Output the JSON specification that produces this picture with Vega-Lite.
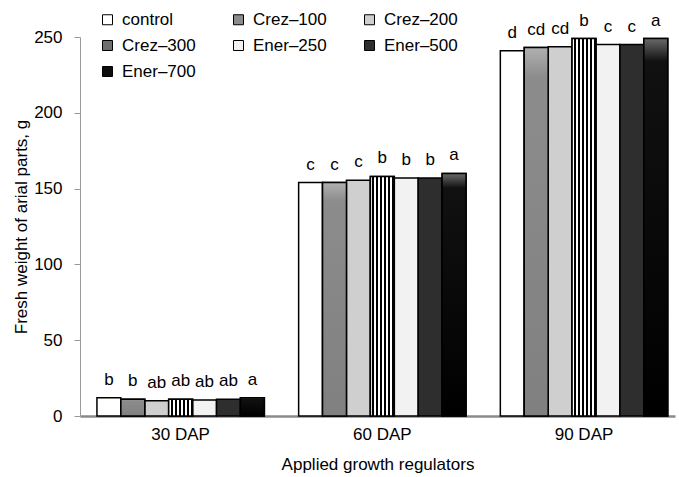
{
  "$schema": "https://vega.github.io/schema/vega-lite/v6.json",
  "width": 595,
  "height": 379,
  "autosize": {"type": "none"},
  "padding": {"left": 80, "top": 37, "right": 4, "bottom": 61},
  "background": "white",
  "config": {
    "font": "Liberation Sans",
    "view": {"stroke": null},
    "axis": {"labelFont": "Liberation Sans", "titleFont": "Liberation Sans", "labelColor": "black", "titleColor": "black", "titleFontWeight": "normal"}
  },
  "data": {
    "values": [
      {"dap": "30 DAP", "treatment": "control", "value": 12, "letter": "b"},
      {"dap": "30 DAP", "treatment": "Crez–100", "value": 11, "letter": "b"},
      {"dap": "30 DAP", "treatment": "Crez–200", "value": 10, "letter": "ab"},
      {"dap": "30 DAP", "treatment": "Crez–300", "value": 11, "letter": "ab"},
      {"dap": "30 DAP", "treatment": "Ener–250", "value": 10.5, "letter": "ab"},
      {"dap": "30 DAP", "treatment": "Ener–500", "value": 11, "letter": "ab"},
      {"dap": "30 DAP", "treatment": "Ener–700", "value": 12, "letter": "a"},
      {"dap": "60 DAP", "treatment": "control", "value": 154, "letter": "c"},
      {"dap": "60 DAP", "treatment": "Crez–100", "value": 154, "letter": "c"},
      {"dap": "60 DAP", "treatment": "Crez–200", "value": 155.5, "letter": "c"},
      {"dap": "60 DAP", "treatment": "Crez–300", "value": 158, "letter": "b"},
      {"dap": "60 DAP", "treatment": "Ener–250", "value": 157, "letter": "b"},
      {"dap": "60 DAP", "treatment": "Ener–500", "value": 157, "letter": "b"},
      {"dap": "60 DAP", "treatment": "Ener–700", "value": 160, "letter": "a"},
      {"dap": "90 DAP", "treatment": "control", "value": 241, "letter": "d"},
      {"dap": "90 DAP", "treatment": "Crez–100", "value": 243, "letter": "cd"},
      {"dap": "90 DAP", "treatment": "Crez–200", "value": 243.5, "letter": "cd"},
      {"dap": "90 DAP", "treatment": "Crez–300", "value": 249, "letter": "b"},
      {"dap": "90 DAP", "treatment": "Ener–250", "value": 245, "letter": "c"},
      {"dap": "90 DAP", "treatment": "Ener–500", "value": 245, "letter": "c"},
      {"dap": "90 DAP", "treatment": "Ener–700", "value": 249, "letter": "a"}
    ]
  },
  "encoding": {
    "x": {
      "field": "dap", "type": "nominal",
      "scale": {"paddingInner": 0.17, "paddingOuter": 0.06, "align": 0.7},
      "axis": {"title": "Applied growth regulators", "labelAngle": 0, "labelFontSize": 17, "titleFontSize": 17, "ticks": false, "labelPadding": 10, "titlePadding": 14, "domainColor": "#8a8a8a", "domainWidth": 2.5}
    },
    "xOffset": {
      "field": "treatment", "type": "nominal",
      "scale": {"domain": ["control", "Crez–100", "Crez–200", "Crez–300", "Ener–250", "Ener–500", "Ener–700"], "paddingInner": 0, "paddingOuter": 0}
    },
    "y": {
      "field": "value", "type": "quantitative",
      "scale": {"domain": [0, 250], "nice": false},
      "axis": {"title": "Fresh weight of arial parts, g", "values": [0, 50, 100, 150, 200, 250], "grid": false, "labelFontSize": 17, "titleFontSize": 17, "domainColor": "#999999", "tickColor": "#999999", "tickSize": 6, "labelPadding": 12, "titlePadding": 3}
    }
  },
  "layer": [
    {
      "mark": {"type": "bar", "stroke": "black", "strokeWidth": 1.5},
      "encoding": {
        "color": {
          "field": "treatment", "type": "nominal",
          "scale": {"domain": ["control", "Crez–100", "Crez–200", "Crez–300", "Ener–250", "Ener–500", "Ener–700"], "range": ["#ffffff", "#8c8c8c", "#cfcfcf", "#6e6e6e", "#f2f2f2", "#2e2e2e", "#0d0d0d"]},
          "legend": {
            "title": null, "orient": "none", "legendX": 19, "legendY": -26, "columns": 3, "direction": "horizontal",
            "symbolType": "square", "symbolSize": 100, "symbolStrokeColor": "black", "symbolStrokeWidth": 1,
            "labelFontSize": 17, "labelColor": "black", "labelFont": "Liberation Sans", "columnPadding": 34, "rowPadding": 8, "gridAlign": "all", "labelOffset": 6
          }
        }
      }
    },
    {
      "transform": [{"filter": "datum.treatment == 'Crez–300'"}],
      "mark": {"type": "bar", "stroke": "black", "strokeWidth": 1.5, "fill": {"gradient": "linear", "x1": 0, "y1": 0, "x2": 1, "y2": 0, "stops": [
        {"offset": 0, "color": "#ffffff"}, {"offset": 0.08, "color": "#ffffff"}, {"offset": 0.08, "color": "#000000"}, {"offset": 0.17, "color": "#000000"},
        {"offset": 0.17, "color": "#ffffff"}, {"offset": 0.25, "color": "#ffffff"}, {"offset": 0.25, "color": "#000000"}, {"offset": 0.33, "color": "#000000"},
        {"offset": 0.33, "color": "#ffffff"}, {"offset": 0.42, "color": "#ffffff"}, {"offset": 0.42, "color": "#000000"}, {"offset": 0.5, "color": "#000000"},
        {"offset": 0.5, "color": "#ffffff"}, {"offset": 0.58, "color": "#ffffff"}, {"offset": 0.58, "color": "#000000"}, {"offset": 0.67, "color": "#000000"},
        {"offset": 0.67, "color": "#ffffff"}, {"offset": 0.75, "color": "#ffffff"}, {"offset": 0.75, "color": "#000000"}, {"offset": 0.83, "color": "#000000"},
        {"offset": 0.83, "color": "#ffffff"}, {"offset": 0.92, "color": "#ffffff"}, {"offset": 0.92, "color": "#000000"}, {"offset": 1, "color": "#000000"}
      ]}}
    },
    {
      "transform": [{"filter": "datum.treatment == 'Ener–700'"}],
      "mark": {"type": "bar", "stroke": "black", "strokeWidth": 1.5, "fill": {"gradient": "linear", "x1": 0, "y1": 0, "x2": 0, "y2": 1, "stops": [
        {"offset": 0, "color": "#6a6a6a"}, {"offset": 0.06, "color": "#111111"}, {"offset": 1, "color": "#000000"}
      ]}}
    },
    {
      "transform": [{"filter": "datum.treatment == 'Crez–100'"}],
      "mark": {"type": "bar", "stroke": "black", "strokeWidth": 1.5, "fill": {"gradient": "linear", "x1": 0, "y1": 0, "x2": 0, "y2": 1, "stops": [
        {"offset": 0, "color": "#b0b0b0"}, {"offset": 0.08, "color": "#8c8c8c"}, {"offset": 1, "color": "#808080"}
      ]}}
    },
    {
      "mark": {"type": "text", "baseline": "alphabetic", "dy": -13, "fontSize": 17, "font": "Liberation Sans", "color": "black"},
      "encoding": {"text": {"field": "letter"}}
    }
  ]
}
